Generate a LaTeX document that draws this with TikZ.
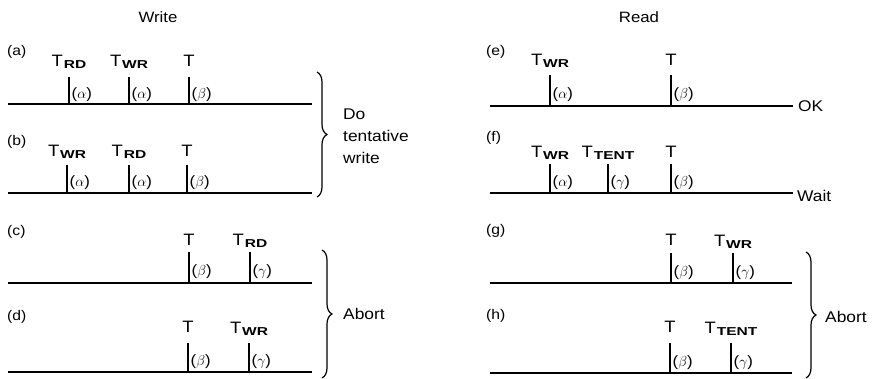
\documentclass[tikz,border=0pt]{standalone}
\usepackage{fontspec}
\setmainfont[FakeStretch=1.12]{Liberation Sans}
\newfontfamily\subf[FakeStretch=1.35]{Liberation Sans}
\usetikzlibrary{calc,decorations.pathreplacing}
\newcommand{\Tsub}[1]{T\kern0.8pt\raisebox{-1.8pt}{\subf\fontsize{11.5}{11.5}\selectfont\bfseries #1}}
\newcommand{\mytick}[7]{%
  \coordinate (#1t) at (#2,#3);
  \coordinate (#1b) at (#2,#4);
  \draw[tk] (#1t) -- (#1b);
  \node[tlabel] (#1l) at (#2,#6) {#5};
  \node[glabel] (#1g) at ($(#1t)!0.64!(#1b)+(1.5,0)$) {#7};
}
\begin{document}
\begin{tikzpicture}[x=1pt,y=-1pt,
  tl/.style={line width=1.4pt},
  tk/.style={line width=2.2pt},
  tlabel/.style={anchor=base,inner sep=0pt,font=\fontsize{16.5}{16.5}\selectfont},
  glabel/.style={anchor=west,inner sep=1pt,font=\fontsize{15}{15}\selectfont},
  caselbl/.style={anchor=base west,inner sep=0pt,font=\fontsize{14}{14}\selectfont},
  head/.style={inner sep=0pt,font=\fontsize{15}{15}\selectfont},
  side/.style={anchor=west,inner sep=0pt,font=\fontsize{15.5}{15.5}\selectfont},
  br/.style={decorate,decoration={brace,amplitude=10pt},line width=1.2pt}]
\useasboundingbox (0,0) rectangle (879,379);

% headings
\node[head] (hw) at (158,17) {Write};
\node[head] (hr) at (639,17) {Read};

% case labels
\node[caselbl] (ca) at (7,56) {(a)};
\node[caselbl] (cb) at (7,146) {(b)};
\node[caselbl] (cc) at (7,236) {(c)};
\node[caselbl] (cd) at (7,321) {(d)};
\node[caselbl] (ce) at (486,56) {(e)};
\node[caselbl] (cf) at (486,142) {(f)};
\node[caselbl] (cg) at (486,235) {(g)};
\node[caselbl] (ch) at (486,320) {(h)};

% time lines
\coordinate (las) at (8,104);  \coordinate (lae) at (312,104);
\coordinate (lbs) at (8,193);  \coordinate (lbe) at (312,193);
\coordinate (lcs) at (8,283);  \coordinate (lce) at (312,283);
\coordinate (lds) at (8,372);  \coordinate (lde) at (312,372);
\coordinate (les) at (490,106); \coordinate (lee) at (793,106);
\coordinate (lfs) at (490,193); \coordinate (lfe) at (793,193);
\coordinate (lgs) at (490,283); \coordinate (lge) at (792,283);
\coordinate (lhs) at (490,373); \coordinate (lhe) at (792,373);
\foreach \r in {a,b,c,d,e,f,g,h}{\draw[tl] (l\r s) -- (l\r e);}

% (a)
\mytick{a1}{69}{77}{104}{\Tsub{RD}}{67}{($\alpha$)}
\mytick{a2}{129}{77}{104}{\Tsub{WR}}{67}{($\alpha$)}
\mytick{a3}{189}{77}{104}{T}{67}{($\beta$)}
% (b)
\mytick{b1}{67}{165}{193}{\Tsub{WR}}{157}{($\alpha$)}
\mytick{b2}{129}{165}{193}{\Tsub{RD}}{157}{($\alpha$)}
\mytick{b3}{187}{165}{193}{T}{157}{($\beta$)}
% (c)
\mytick{c1}{189}{252}{283}{T}{246}{($\beta$)}
\mytick{c2}{250}{252}{283}{\Tsub{RD}}{246}{($\gamma$)}
% (d)
\mytick{d1}{188}{343}{372}{T}{333}{($\beta$)}
\mytick{d2}{249}{343}{372}{\Tsub{WR}}{334}{($\gamma$)}
% (e)
\mytick{e1}{550}{75}{106}{\Tsub{WR}}{66}{($\alpha$)}
\mytick{e2}{671}{75}{106}{T}{66}{($\beta$)}
% (f)
\mytick{f1}{550}{164}{193}{\Tsub{WR}}{158}{($\alpha$)}
\mytick{f2}{608}{164}{193}{\Tsub{TENT}}{158}{($\gamma$)}
\mytick{f3}{671}{164}{193}{T}{158}{($\beta$)}
% (g)
\mytick{g1}{671}{253}{283}{T}{246}{($\beta$)}
\mytick{g2}{733}{253}{283}{\Tsub{WR}}{247}{($\gamma$)}
% (h)
\mytick{h1}{670}{343}{373}{T}{333}{($\beta$)}
\mytick{h2}{731}{343}{373}{\Tsub{TENT}}{334}{($\gamma$)}

% outcomes
\node[side] (ok) at (798,106) {OK};
\node[side] (wt) at (797,196) {Wait};

% braces
\coordinate (b1t) at (317,72);  \coordinate (b1b) at (317,197);
\draw[br] (b1t) -- (b1b);
\node[side,align=left,font=\fontsize{15.5}{22}\selectfont] (dtw) at (343,136) {Do\\tentative\\write};
\coordinate (b2t) at (322,250); \coordinate (b2b) at (322,378);
\draw[br] (b2t) -- (b2b);
\node[side] (ab1) at (343,314) {Abort};
\coordinate (b3t) at (806,252); \coordinate (b3b) at (806,378);
\draw[br] (b3t) -- (b3b);
\node[side] (ab2) at (825,317) {Abort};
\end{tikzpicture}
\end{document}
